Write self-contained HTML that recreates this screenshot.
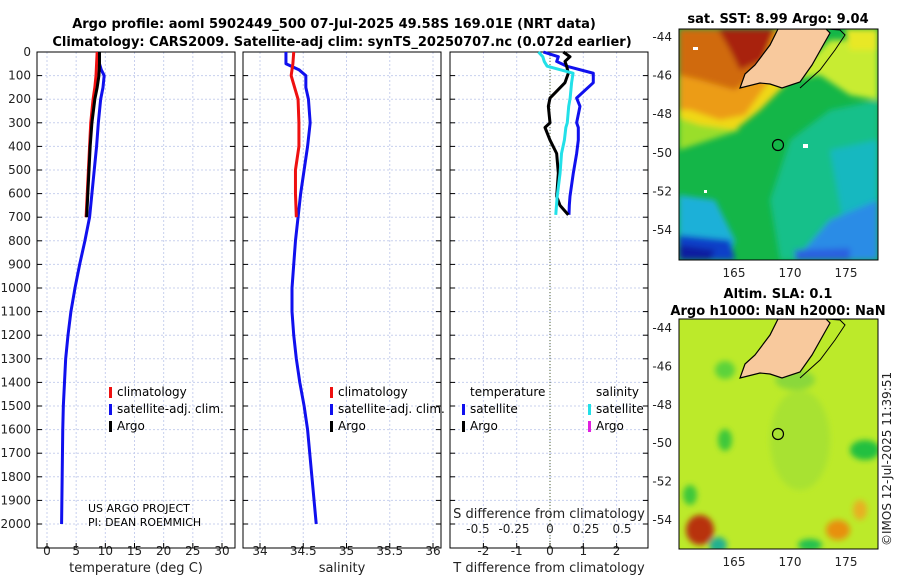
<!DOCTYPE html>
<html><head><meta charset="utf-8"><style>
body{margin:0;background:#fff}
svg{display:block;font-family:"DejaVu Sans","Liberation Sans",sans-serif}
.t{font-size:13px;font-weight:bold}
.tk{font-size:12px;fill:#222}
.lg{font-size:12px}
</style></head><body>
<svg id="c" width="900" height="580" viewBox="0 0 900 580">
<defs>
<filter id="bl"><feGaussianBlur stdDeviation="3"/></filter>
<clipPath id="m1"><rect x="679" y="29" width="199" height="231"/></clipPath>
<clipPath id="m2"><rect x="679" y="319" width="199" height="230"/></clipPath>
</defs>
<text class="t" x="334" y="28" text-anchor="middle">Argo profile: aoml 5902449_500 07-Jul-2025 49.58S 169.01E (NRT data)</text>
<text class="t" x="342" y="46" text-anchor="middle">Climatology: CARS2009. Satellite-adj clim: synTS_20250707.nc (0.072d earlier)</text>
<g id="panels"></g>
<!-- top map -->
<g clip-path="url(#m1)">
<rect x="679" y="29" width="199" height="231" fill="#14b648"/>
<g filter="url(#bl)">
<polygon points="679,95 700,110 740,130 679,150" fill="#9ade2a"/>
<polygon points="679,29 790,29 785,85 760,110 735,130 700,125 679,118" fill="#f0d818"/>
<polygon points="679,29 780,29 770,80 745,115 720,120 690,110 679,110" fill="#ec9c12"/>
<polygon points="679,29 775,29 760,70 735,90 700,80 679,75" fill="#d06a0a"/>
<polygon points="718,29 775,29 762,60 740,70 730,50" fill="#a8200a"/>
<polygon points="790,80 830,40 878,40 878,100 850,95 820,75" fill="#c8ec30"/>
<polygon points="845,29 878,29 878,50 850,50" fill="#e8e828"/>
<polygon points="790,140 830,110 878,100 878,260 780,260 770,200" fill="#16c08a"/>
<polygon points="830,150 878,140 878,260 850,260" fill="#18b8c0"/>
<polygon points="679,195 715,200 735,240 730,260 679,260" fill="#1cb0d8"/>
<polygon points="830,220 878,200 878,260 795,260" fill="#2c8ce6"/>
<polygon points="679,235 730,240 735,260 679,260" fill="#1040c8"/>
<polygon points="679,245 715,250 710,260 679,260" fill="#0a1ea0"/>
<polygon points="795,250 850,248 850,260 795,260" fill="#2a60e0"/>
</g>
<polygon points="778,29 826,29 830,33 812,65 800,82 782,88 770,84 760,83 740,88 745,74 755,65 770,45" fill="#f8c99d" stroke="#000" stroke-width="1.2"/>
<polyline points="826,29 840,30 845,35 835,50 820,70 800,88" fill="none" stroke="#000" stroke-width="1"/>
<rect x="693" y="47" width="5" height="3" fill="#fff"/><rect x="803" y="144" width="5" height="4" fill="#fff"/><rect x="704" y="190" width="3" height="3" fill="#fff"/>
<circle cx="778" cy="145" r="5.5" fill="none" stroke="#000" stroke-width="1.2"/>
</g>
<rect x="679" y="29" width="199" height="231" fill="none" stroke="#000"/>
<text class="t" x="778" y="23" text-anchor="middle">sat. SST: 8.99 Argo: 9.04</text>
<!-- bottom map -->
<g clip-path="url(#m2)">
<rect x="679" y="319" width="199" height="230" fill="#bcea2a"/>
<g filter="url(#bl)">
<ellipse cx="725" cy="370" rx="10" ry="9" fill="#5cd33a"/>
<ellipse cx="725" cy="440" rx="7" ry="11" fill="#3cc83a"/>
<ellipse cx="865" cy="450" rx="15" ry="10" fill="#22c040"/>
<ellipse cx="690" cy="495" rx="7" ry="10" fill="#3cc83a"/>
<ellipse cx="700" cy="530" rx="14" ry="15" fill="#b8300a"/>
<ellipse cx="718" cy="545" rx="9" ry="8" fill="#22b090"/>
<ellipse cx="838" cy="530" rx="12" ry="10" fill="#e8900a"/>
<ellipse cx="860" cy="510" rx="7" ry="10" fill="#e8b020"/>
<ellipse cx="795" cy="380" rx="20" ry="10" fill="#8ad83a"/>
<ellipse cx="810" cy="545" rx="12" ry="6" fill="#22c050"/>
<ellipse cx="800" cy="440" rx="30" ry="50" fill="#a8e232"/>
</g>
<polygon points="778,319 826,319 830,323 812,355 800,372 782,378 770,374 760,373 740,378 745,364 755,355 770,335" fill="#f8c99d" stroke="#000" stroke-width="1.2"/>
<polyline points="826,319 840,320 845,325 835,340 820,360 800,378" fill="none" stroke="#000" stroke-width="1"/>
<circle cx="778" cy="434" r="5.5" fill="none" stroke="#000" stroke-width="1.2"/>
</g>
<rect x="679" y="319" width="199" height="230" fill="none" stroke="#000"/>
<text class="t" x="778" y="298" text-anchor="middle">Altim. SLA: 0.1</text>
<text class="t" x="778" y="315" text-anchor="middle">Argo h1000: NaN h2000: NaN</text>
<text class="tk" transform="translate(891,546) rotate(-90)">©IMOS 12-Jul-2025 11:39:51</text>
<text x="88" y="512" style="font-size:11px">US ARGO PROJECT</text>
<text x="88" y="526" style="font-size:11px">PI: DEAN ROEMMICH</text>
</svg>
<script>
const depths=[0,50,100,150,200,300,400,500,600,700];
const argoT=[9.0,9.0,8.9,8.6,8.2,7.7,7.4,7.2,7.0,6.8];
const climT=[8.6,8.5,8.4,8.2,7.9,7.5,7.3,7.1,6.9,6.7];
const satDepths=[0,50,75,100,150,200,300,400,500,600,700,800,900,1000,1100,1200,1300,1400,1500,1600,1800,2000];
const satT=[8.9,9.0,9.3,9.8,9.6,9.2,8.8,8.5,8.1,7.7,7.3,6.5,5.6,4.8,4.1,3.6,3.2,3.0,2.8,2.7,2.6,2.5];
const climS=[34.39,34.38,34.36,34.40,34.44,34.45,34.45,34.41,34.41,34.42];
const satS=[34.30,34.30,34.45,34.53,34.53,34.56,34.58,34.55,34.51,34.47,34.44,34.41,34.39,34.37,34.37,34.39,34.42,34.46,34.51,34.55,34.60,34.65];
const diffDepths=[0,20,40,60,90,130,195,230,300,320,373,430,513,612,650,690];
const argoTdiff=[0.4,0.6,0.45,0.5,0.55,0.45,0.0,-0.05,0.0,-0.15,0.0,0.2,0.25,0.2,0.3,0.55];
const satTdiff=[-0.2,0.25,0.2,0.5,1.3,1.3,0.8,0.9,0.8,0.85,0.85,0.8,0.7,0.6,0.58,0.57];
const satSdiff=[-0.08,-0.05,-0.04,-0.02,0.16,0.15,0.14,0.13,0.12,0.11,0.1,0.08,0.07,0.05,0.045,0.04];
const depthTicks=[0,100,200,300,400,500,600,700,800,900,1000,1100,1200,1300,1400,1500,1600,1700,1800,1900,2000];
const tTicks=[0,5,10,15,20,25,30];
const sTicks=[34,34.5,35,35.5,36];
const tdTicks=[-2,-1,0,1,2];
const sdTicks=[-0.5,-0.25,0,0.25,0.5];
const latTicks=[-44,-46,-48,-50,-52,-54];
const lonTicks=[165,170,175];
const NS='http://www.w3.org/2000/svg';
const svg=document.getElementById('c');const G=document.getElementById('panels');
function el(t,a,p){const e=document.createElementNS(NS,t);for(const k in a)e.setAttribute(k,a[k]);(p||G).appendChild(e);return e;}
const yD=d=>52+d*0.236;
const P1={x0:37,x1:235,f:v=>47+v*5.833};
const P2={x0:243,x1:441,f:v=>260+(v-34)*86.5};
const P3={x0:450,x1:648,f:v=>550+v*33.3};
const fS=v=>550+v*144;
function frame(P,name,ticks,fmt,lab){
  const g=el('g',{});
  
  
  depthTicks.forEach(d=>{el('line',{x1:P.x0,x2:P.x1,y1:yD(d),y2:yD(d),stroke:'#c8d0ee','stroke-dasharray':'2,2'},g);
    el('line',{x1:P.x0,x2:P.x0+5,y1:yD(d),y2:yD(d),stroke:'#000'},g);el('line',{x1:P.x1-5,x2:P.x1,y1:yD(d),y2:yD(d),stroke:'#000'},g);});
  ticks.forEach(v=>{const x=P.f(v);el('line',{x1:x,x2:x,y1:52,y2:548,stroke:'#c8d0ee','stroke-dasharray':'2,2'},g);
    el('line',{x1:x,x2:x,y1:543,y2:548,stroke:'#000'},g);
    const t=el('text',{x:x,y:555,'text-anchor':'middle',class:'tk'},g);t.textContent=fmt(v);
    
    });
  el('rect',{x:P.x0,y:52,width:P.x1-P.x0,height:496,fill:'none',stroke:'#000'},g);
  const t=el('text',{x:(P.x0+P.x1)/2,y:572,'text-anchor':'middle',class:'tk',style:'font-size:13px'},g);t.textContent=lab;
  
  
}
frame(P1,'temperature-panel',tTicks,v=>v,'temperature (deg C)');
frame(P2,'salinity-panel',sTicks,v=>v,'salinity');
frame(P3,'difference-panel',tdTicks,v=>v,'T difference from climatology');
depthTicks.forEach(d=>{const t=el('text',{x:31,y:yD(d)+4,'text-anchor':'end',class:'tk'});t.textContent=d;
  
  });
el('line',{x1:550,x2:550,y1:52,y2:548,stroke:'#556633','stroke-dasharray':'1,2'});
let st=el('text',{x:549,y:518,'text-anchor':'middle',class:'tk',style:'font-size:13px'});st.textContent='S difference from climatology';


sdTicks.forEach(v=>{const t=el('text',{x:fS(v),y:533,'text-anchor':'middle',class:'tk'});t.textContent=v;
  
  });
function line(xs,ds,f,col,name,w){
  const p=el('polyline',{points:xs.map((v,i)=>f(v)+','+yD(ds[i])).join(' '),fill:'none',stroke:col,'stroke-width':w||3,'stroke-linejoin':'round'});
  
  
}
line(satT,satDepths,P1.f,'#1010ee','temp-satellite-line');
line(climT,depths,P1.f,'#ee1010','temp-climatology-line');
line(argoT,depths,P1.f,'#000','temp-argo-line');
line(satS,satDepths,P2.f,'#1010ee','salinity-satellite-line');
line(climS,depths,P2.f,'#ee1010','salinity-climatology-line');
line(satTdiff,diffDepths,P3.f,'#1010ee','tdiff-satellite-line');
line(argoTdiff,diffDepths,P3.f,'#000','tdiff-argo-line');
line(satSdiff,diffDepths,fS,'#22e0e8','sdiff-satellite-line');
function leg(x,y,col,txt,name){el('rect',{x:x,y:y-9,width:3,height:11,fill:col});
  const t=el('text',{x:x+8,y:y,class:'lg'});t.textContent=txt;
  
  }
leg(109,396,'#ee1010','climatology','legend-climatology');
leg(109,413,'#1010ee','satellite-adj. clim.','legend-satellite');
leg(109,430,'#000','Argo','legend-argo');
leg(330,396,'#ee1010','climatology','legend-climatology-s');
leg(330,413,'#1010ee','satellite-adj. clim.','legend-satellite-s');
leg(330,430,'#000','Argo','legend-argo-s');
let h=el('text',{x:470,y:396,class:'lg'});h.textContent='temperature';
h=el('text',{x:596,y:396,class:'lg'});h.textContent='salinity';
leg(462,413,'#1010ee','satellite','legend-t-satellite');
leg(462,430,'#000','Argo','legend-t-argo');
leg(588,413,'#22e0e8','satellite','legend-s-satellite');
leg(588,430,'#e020e0','Argo','legend-s-argo');
function mapTicks(y0,y1,latY){
  latTicks.forEach(l=>{const y=latY(l);el('line',{x1:679,x2:683,y1:y,y2:y,stroke:'#000'});el('line',{x1:874,x2:878,y1:y,y2:y,stroke:'#000'});
    const t=el('text',{x:672,y:y+4,'text-anchor':'end',class:'tk'});t.textContent=l;
    
    });
  lonTicks.forEach(L=>{const x=734+(L-165)*11.2;el('line',{x1:x,x2:x,y1:y1-4,y2:y1,stroke:'#000'});el('line',{x1:x,x2:x,y1:y0,y2:y0+4,stroke:'#000'});
    const t=el('text',{x:x,y:y1+17,'text-anchor':'middle',class:'tk'});t.textContent=L;
    
    });
}
mapTicks(29,260,l=>37+(-44-l)*19.3);
mapTicks(319,549,l=>328+(-44-l)*19.2);
</script>
</body></html>
